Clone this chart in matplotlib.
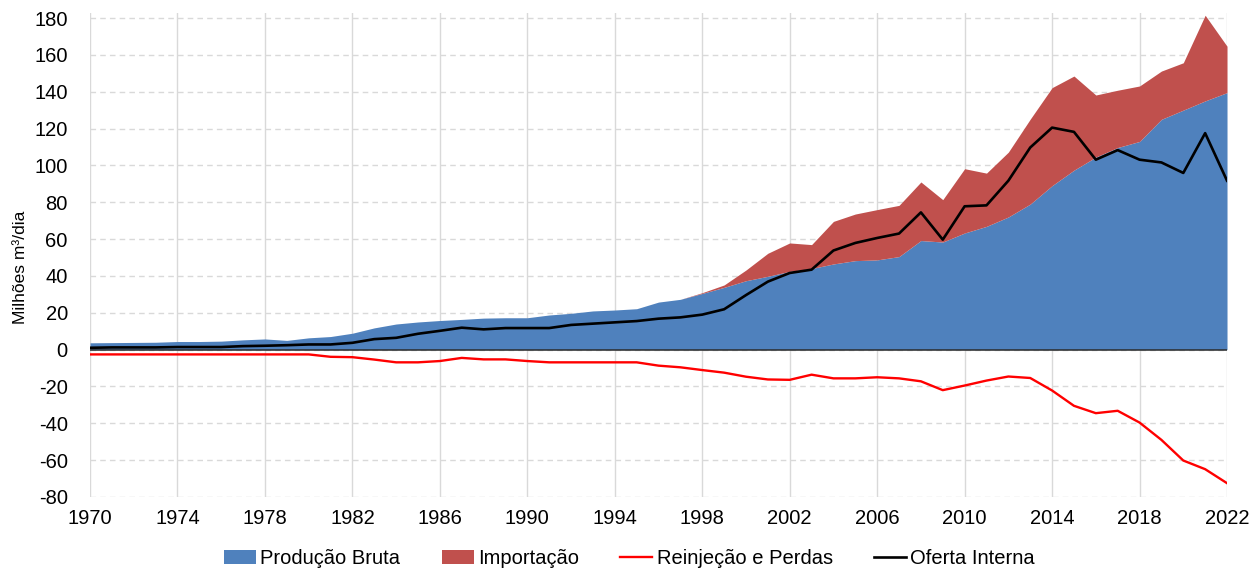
import numpy as np
import matplotlib
matplotlib.use("Agg")
import matplotlib.pyplot as plt
from matplotlib.patches import Patch
from matplotlib.lines import Line2D

plt.rcParams["font.family"] = ["Liberation Sans", "DejaVu Sans"]
plt.rcParams["axes.unicode_minus"] = False

anos = list(range(1970, 2023))

# Produção Bruta (milhões m3/dia)
producao = [3.7, 3.8, 3.9, 4.0, 4.4, 4.4, 4.6, 5.3, 5.8, 5.0,
            6.4, 7.1, 8.9, 11.8, 13.9, 15.0, 15.8, 16.4, 17.1, 17.3,
            17.3, 18.8, 19.7, 21.0, 21.5, 22.2, 25.8, 27.3, 30.5, 33.8,
            37.4, 39.8, 42.5, 44.0, 46.5, 48.3, 48.7, 50.5, 59.2, 58.4,
            63.3, 66.9, 72.0, 79.0, 89.0, 97.4, 104.5, 109.7, 113.0, 125.0,
            130.0, 135.0, 139.5]

# Importação
importacao = [0] * 28 + [0.4, 1.3,
              5.8, 12.5, 15.4, 13.0, 23.1, 25.3, 27.3, 27.8, 31.8, 23.0,
              34.9, 28.9, 35.2, 46.1, 53.2, 51.1, 33.7, 31.1, 30.1, 26.2,
              25.7, 46.5, 25.2]

# Reinjeção e Perdas
reinjecao = [-2.6] * 11 + [-3.9, -4.1, -5.4, -6.9, -6.9, -6.2, -4.5, -5.3, -5.3,
             -6.2, -6.9, -6.9, -6.9, -6.9, -6.9, -8.7, -9.6, -11.1, -12.5,
             -14.7, -16.2, -16.4, -13.6, -15.6, -15.6, -15.0, -15.6, -17.2, -22.0,
             -19.5, -16.8, -14.6, -15.4, -22.2, -30.5, -34.5, -33.2, -39.6, -49.0,
             -60.2, -64.9, -72.5]

# Oferta Interna
oferta = [1.0, 1.2, 1.2, 1.2, 1.4, 1.4, 1.4, 1.9, 2.1, 2.4,
          2.8, 2.8, 3.7, 5.7, 6.4, 8.6, 10.2, 11.9, 11.0, 11.7,
          11.7, 11.7, 13.4, 14.1, 14.8, 15.5, 16.8, 17.5, 19.0, 21.9,
          29.6, 36.9, 41.6, 43.4, 53.8, 57.9, 60.6, 63.0, 74.5, 59.7,
          77.8, 78.3, 91.7, 109.7, 120.5, 118.2, 103.1, 108.3, 103.1, 101.6,
          95.9, 117.5, 91.7]

azul = "#4F81BD"
vermelho = "#C0504D"

fig = plt.figure(figsize=(12.59, 5.68), dpi=100)
ax = fig.add_axes([0.0715, 0.125, 0.9031, 0.8514])

prod = np.array(producao)
imp = np.array(importacao)
ax.fill_between(anos, 0, prod, color=azul, linewidth=0, zorder=2)
ax.fill_between(anos, prod, prod + imp, color=vermelho, linewidth=0, zorder=2)
ax.plot(anos, reinjecao, color="#FF0000", lw=1.7, zorder=3)
ax.plot(anos, oferta, color="black", lw=1.9, zorder=4)
ax.axhline(0, color="#2b2b2b", lw=1.1, zorder=3)

ax.set_xlim(1970, 2022)
ax.set_ylim(-80, 182.5)
ax.set_xticks(range(1970, 2023, 4))
ax.set_yticks(range(-80, 181, 20))
ax.tick_params(length=0, labelsize=14.5)
ax.tick_params(axis="x", pad=9)
ax.tick_params(axis="y", pad=16)

ax.set_axisbelow(True)
ax.grid(axis="x", color="#d9d9d9", lw=1.0, linestyle="-")
ax.grid(axis="y", color="#d9d9d9", lw=1.0, linestyle=(0, (4, 3)))
for s in ax.spines.values():
    s.set_visible(False)

fig.text(0.016, 0.53, "Milhões m³/dia", rotation=90, fontsize=12.5,
         ha="center", va="center")

handles = [Patch(facecolor=azul, edgecolor="none"),
           Patch(facecolor=vermelho, edgecolor="none"),
           Line2D([], [], color="#FF0000", lw=1.7),
           Line2D([], [], color="black", lw=1.9)]
labels = ["Produção Bruta", "Importação", "Reinjeção e Perdas", "Oferta Interna"]
fig.legend(handles, labels, loc="center", bbox_to_anchor=(0.5, 0.016), ncol=4,
           frameon=False, fontsize=14.5, handlelength=1.6, handletextpad=0.2,
           columnspacing=2.05, borderaxespad=0)

fig.savefig("out.png", dpi=100)
